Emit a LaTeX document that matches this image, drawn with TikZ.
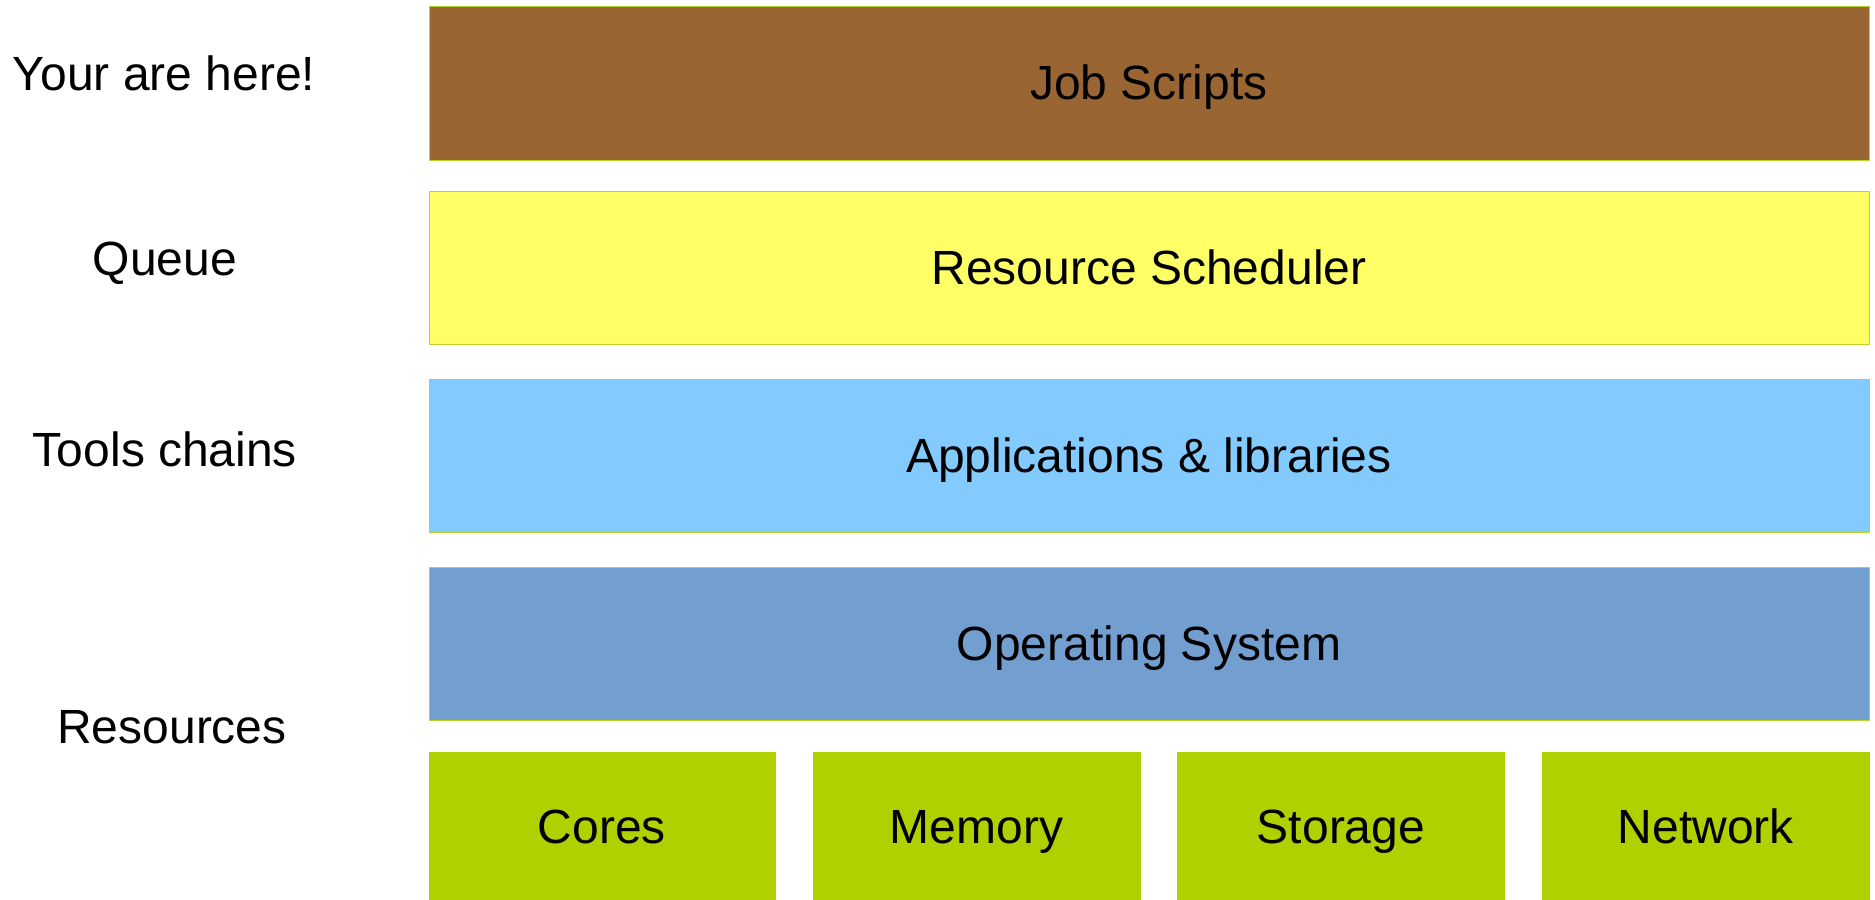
\documentclass[tikz,border=0pt]{standalone}
\usepackage{fontspec}
\setmainfont{Liberation Sans}
\definecolor{brownfill}{HTML}{996633}
\definecolor{yellowfill}{HTML}{FFFF66}
\definecolor{skyfill}{HTML}{83CAFF}
\definecolor{osfill}{HTML}{729FCF}
\definecolor{greenfill}{HTML}{B0D000}
\definecolor{edgecol}{HTML}{B8D428}
\tikzset{
  bigtext/.style={font=\fontsize{48}{57}\selectfont, text height=43.4pt, text depth=10.2pt},
  layer/.style={bigtext, draw=edgecol, line width=1pt, minimum width=1440pt, minimum height=153pt, inner sep=0pt, anchor=center},
  resbox/.style={bigtext, draw=greenfill, fill=greenfill, line width=0.6pt, minimum height=149pt, inner sep=0pt, anchor=center},
  sidelabel/.style={inner sep=0pt, anchor=base, font=\fontsize{48}{57}\selectfont}
}
\begin{document}
\begin{tikzpicture}[x=1pt,y=-1pt]
\useasboundingbox (0,0) rectangle (1875,900);
\fill[white] (0,0) rectangle (1875,900);
\node[layer, fill=brownfill, minimum height=154pt] (job) at (1149,83.2) {Job Scripts};
\node[layer, fill=yellowfill] (sched) at (1149,267.5) {Resource Scheduler};
\node[layer, fill=skyfill] (apps) at (1149,455.5) {Applications \& libraries};
\node[layer, fill=osfill] (os) at (1149,643.5) {Operating System};
\node[resbox, minimum width=346pt] (cores) at (601.8,827) {Cores};
\node[resbox, minimum width=327pt] (mem) at (976.5,827) {Memory};
\node[resbox, minimum width=327pt] (stor) at (1341,827) {Storage};
\node[resbox, minimum width=327pt] (net) at (1705.8,827) {Network};
\node[sidelabel] (here) at (164,90) {Your are here!};
\node[sidelabel] (queue) at (165,275) {Queue};
\node[sidelabel] (tools) at (165,466.7) {Tools chains};
\node[sidelabel] (res) at (172,743.3) {Resources};
\end{tikzpicture}
\end{document}
